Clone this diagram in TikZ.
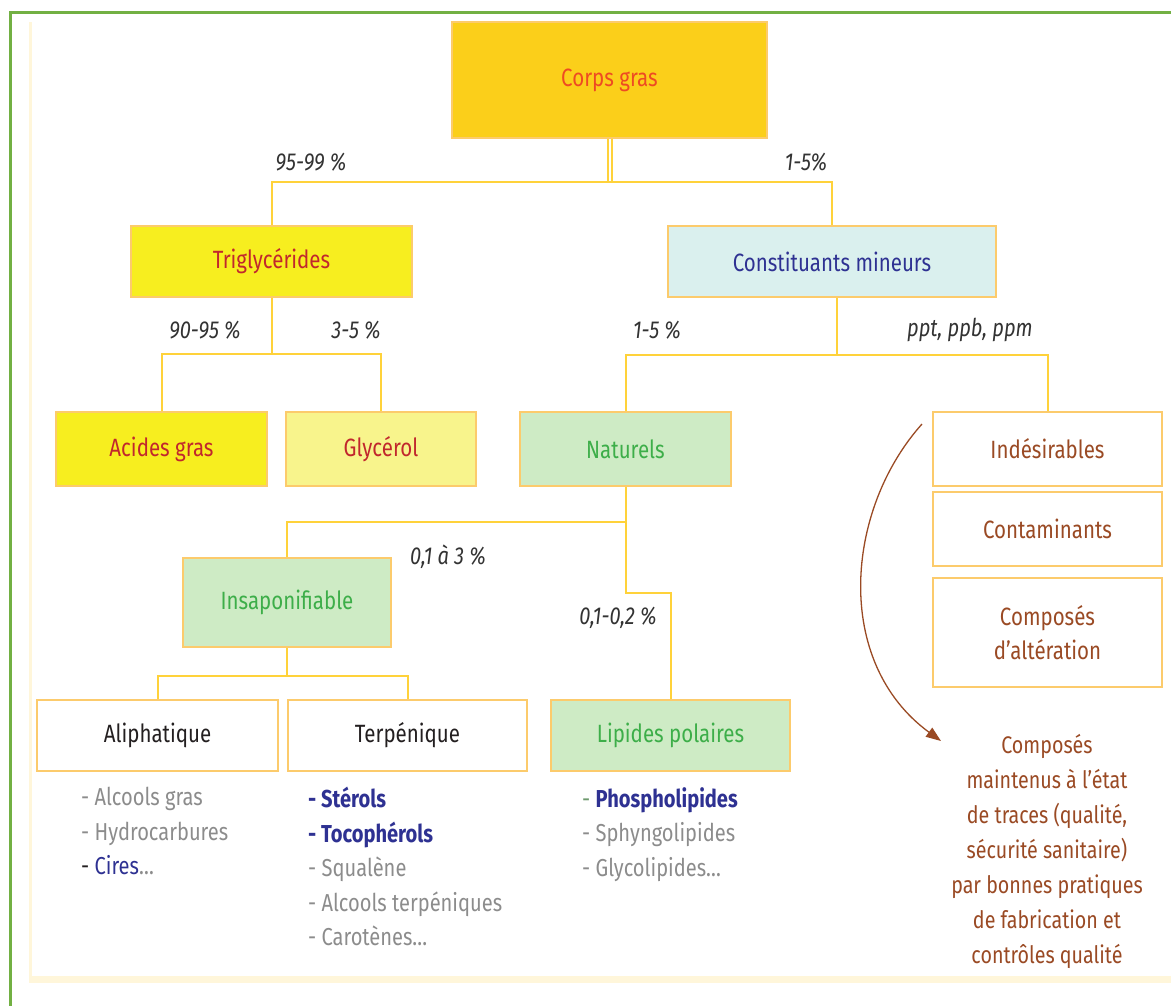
\documentclass[tikz,border=0pt]{standalone}
\usepackage{fontspec}
\setmainfont[FakeStretch=0.82]{Fira Sans}
\usetikzlibrary{arrows.meta}

% palette
\definecolor{framegreen}{HTML}{72B043}
\definecolor{cream}{HTML}{FFF6DA}
\definecolor{boxline}{HTML}{FCCB6C}
\definecolor{connline}{HTML}{FFD23A}
\definecolor{goldfill}{HTML}{FBCF1A}
\definecolor{goldtext}{HTML}{EE4A23}
\definecolor{yellowfill}{HTML}{F7EE1F}
\definecolor{paleyellow}{HTML}{F8F48C}
\definecolor{redtext}{HTML}{C1272D}
\definecolor{cyanfill}{HTML}{DAF0EE}
\definecolor{navy}{HTML}{2E3192}
\definecolor{greenfill}{HTML}{CEEBC5}
\definecolor{greentext}{HTML}{3DAE49}
\definecolor{brown}{HTML}{9A4A24}
\definecolor{greytext}{HTML}{8C8C8C}
\definecolor{labeltext}{HTML}{333333}
\definecolor{darktext}{HTML}{231F20}
\definecolor{dashgreen}{HTML}{6E9A6E}

\tikzset{
  box/.style={draw=boxline, line width=1.5pt, inner sep=0pt, align=center,
    font=\fontsize{25}{30}\selectfont},
  conn/.style={draw=connline, line width=2pt},
  pct/.style={font=\fontsize{24.5}{28}\selectfont\itshape, text=labeltext, inner sep=0pt},
  itemlist/.style={font=\fontsize{24.5}{34.5}\selectfont, align=left, anchor=north west, inner sep=0pt},
}

\begin{document}
\begin{tikzpicture}[x=1pt, y=-1pt]
\useasboundingbox (0,0) rectangle (1171,1005);
\clip (0,0) rectangle (1171,1005);

% outer frame and inner cream margin
\fill[white] (0,0) rectangle (1171,1005);
\draw[framegreen, line width=3pt] (10,12) rectangle (1195,1030);
\fill[cream] (29,22) rectangle (32,983);
\fill[cream] (29,976) rectangle (1171,983);

% boxes
\node[box, fill=goldfill, text=goldtext, minimum width=315pt, minimum height=116pt] (corps) at (609.5,80) {Corps gras};
\node[box, fill=yellowfill, text=redtext, minimum width=281pt, minimum height=71pt] (tri) at (271.5,261.5) {Triglycérides};
\node[box, fill=cyanfill, text=navy, minimum width=328pt, minimum height=71pt] (const) at (832,261.5) {Constituants mineurs};
\node[box, fill=yellowfill, text=redtext, minimum width=211pt, minimum height=74pt] (acides) at (161.5,449) {Acides gras};
\node[box, fill=paleyellow, text=redtext, minimum width=190pt, minimum height=74pt] (glyc) at (381,449) {Glycérol};
\node[box, fill=greenfill, text=greentext, minimum width=211pt, minimum height=74pt] (nat) at (625.5,449) {Naturels};
\node[box, fill=white, text=brown, minimum width=229pt, minimum height=74pt] (indes) at (1047.5,449) {Indésirables};
\node[box, fill=white, text=brown, minimum width=229pt, minimum height=74pt] (contam) at (1047.5,529) {Contaminants};
\node[box, fill=white, text=brown, minimum width=229pt, minimum height=109pt,
  font=\fontsize{25}{34}\selectfont] (alter) at (1047.5,632.5) {Composés\\d’altération};
\node[box, fill=greenfill, text=greentext, minimum width=208pt, minimum height=89pt] (insap) at (287,602.5) {Insaponifiable};
\node[box, fill=white, text=darktext, minimum width=241pt, minimum height=71pt] (aliph) at (157.5,735.5) {Aliphatique};
\node[box, fill=white, text=darktext, minimum width=239pt, minimum height=71pt] (terp) at (407.5,735.5) {Terpénique};
\node[box, fill=greenfill, text=greentext, minimum width=239pt, minimum height=71pt] (lip) at (670.5,735.5) {Lipides polaires};

% connectors
\coordinate (j1) at (607,182);
\draw[conn] ([xshift=-2pt]corps.south) -- ([xshift=-2pt]corps.south |- j1);
\draw[conn] ([xshift=2pt]corps.south) -- ([xshift=2pt]corps.south |- j1);
\draw[conn] (tri.north) |- (j1) -| (const.north);

\draw[conn] (tri.south) -- ++(0,56) coordinate (j2);
\draw[conn] (acides.north) |- (j2) -| (glyc.north);

\draw[conn] ([xshift=5pt]const.south) -- ++(0,57) coordinate (j3);
\draw[conn] (nat.north) |- (j3) -| (indes.north);

\draw[conn] (nat.south) -- ++(0,35) coordinate (j4) -- ++(0,71) -| (lip.north);
\draw[conn] (insap.north) |- (j4);

\draw[conn] (insap.south) -- ++(0,28) coordinate (j5);
\draw[conn] (aliph.north) |- (j5) -| (terp.north);

% percentages
\node[pct] (l1) at (311,162) {95-99 \%};
\node[pct] (l2) at (806,162) {1-5\%};
\node[pct] (l3) at (205,330) {90-95 \%};
\node[pct] (l4) at (356,330) {3-5 \%};
\node[pct] (l5) at (657,330) {1-5 \%};
\node[pct] (l6) at (970,330) {ppt, ppb, ppm};
\node[pct] (l7) at (448,557) {0,1 à 3 \%};
\node[pct] (l8) at (618,618) {0,1-0,2 \%};

% component lists
\node[itemlist, text=greytext] (listA) at (81,787)
  {- Alcools gras\\- Hydrocarbures\\{\color{darktext}-} {\color{navy}Cires}…};
\node[itemlist, text=greytext] (listT) at (308,787)
  {{\color{navy}\bfseries - Stérols}\\{\color{navy}\bfseries - Tocophérols}\\- Squalène\\- Alcools terpéniques\\- Carotènes…};
\node[itemlist, text=greytext] (listL) at (582,787)
  {{\color{dashgreen}-} {\color{navy}\bfseries Phospholipides}\\- Sphyngolipides\\- Glycolipides…};

% trace compounds
\node[font=\fontsize{24}{35}\selectfont, text=brown, align=center, inner sep=0pt] (traces) at (1047,851)
  {Composés\\maintenus à l’état\\de traces (qualité,\\sécurité sanitaire)\\par bonnes pratiques\\de fabrication et\\contrôles qualité};

\coordinate (arrS) at (922,424);
\coordinate (arrE) at (941,741);
\draw[brown, line width=1.3pt, -{Triangle[length=15pt,width=11pt]}]
  (arrS) .. controls (845,510) and (833,662) .. (arrE);
\end{tikzpicture}
\end{document}
